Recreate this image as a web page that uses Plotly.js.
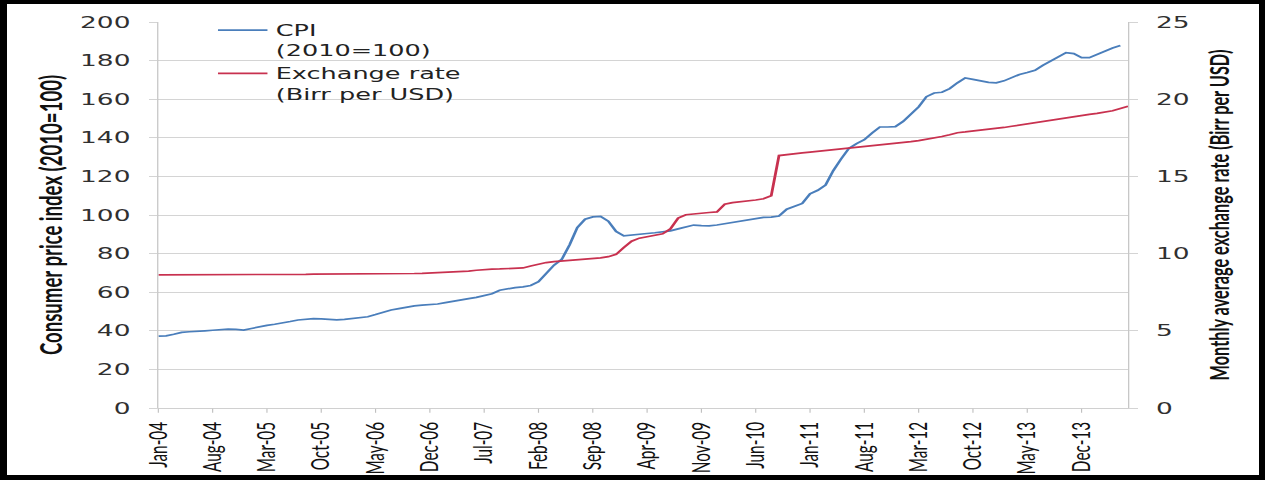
<!DOCTYPE html>
<html><head><meta charset="utf-8">
<script src="https://cdn.plot.ly/plotly-3.0.1.min.js"></script>
<style>
html,body{margin:0;padding:0;background:#fff;}
#wrap{position:relative;width:1265px;height:480px;overflow:hidden;background:#fff;}
#chart{position:absolute;left:0;top:0;width:767px;height:480px;transform:scaleX(1.6493);transform-origin:0 0;}
#frame{position:absolute;left:0;top:0;width:1265px;height:480px;box-sizing:border-box;border-style:solid;border-color:#000;border-width:4px 6px 5px 7px;pointer-events:none;}
</style></head>
<body>
<div id="wrap"><div id="chart"></div><div id="frame"></div></div>
<script>
// Monthly categories Jan-04 .. Jun-14
var MONTHS = [
 "Jan-04","Feb-04","Mar-04","Apr-04","May-04","Jun-04","Jul-04","Aug-04","Sep-04","Oct-04","Nov-04","Dec-04",
 "Jan-05","Feb-05","Mar-05","Apr-05","May-05","Jun-05","Jul-05","Aug-05","Sep-05","Oct-05","Nov-05","Dec-05",
 "Jan-06","Feb-06","Mar-06","Apr-06","May-06","Jun-06","Jul-06","Aug-06","Sep-06","Oct-06","Nov-06","Dec-06",
 "Jan-07","Feb-07","Mar-07","Apr-07","May-07","Jun-07","Jul-07","Aug-07","Sep-07","Oct-07","Nov-07","Dec-07",
 "Jan-08","Feb-08","Mar-08","Apr-08","May-08","Jun-08","Jul-08","Aug-08","Sep-08","Oct-08","Nov-08","Dec-08",
 "Jan-09","Feb-09","Mar-09","Apr-09","May-09","Jun-09","Jul-09","Aug-09","Sep-09","Oct-09","Nov-09","Dec-09",
 "Jan-10","Feb-10","Mar-10","Apr-10","May-10","Jun-10","Jul-10","Aug-10","Sep-10","Oct-10","Nov-10","Dec-10",
 "Jan-11","Feb-11","Mar-11","Apr-11","May-11","Jun-11","Jul-11","Aug-11","Sep-11","Oct-11","Nov-11","Dec-11",
 "Jan-12","Feb-12","Mar-12","Apr-12","May-12","Jun-12","Jul-12","Aug-12","Sep-12","Oct-12","Nov-12","Dec-12",
 "Jan-13","Feb-13","Mar-13","Apr-13","May-13","Jun-13","Jul-13","Aug-13","Sep-13","Oct-13","Nov-13","Dec-13",
 "Jan-14","Feb-14","Mar-14","Apr-14","May-14","Jun-14"
];
var TICK_LABELS = ["Jan-04","Aug-04","Mar-05","Oct-05","May-06","Dec-06","Jul-07","Feb-08","Sep-08",
 "Apr-09","Nov-09","Jun-10","Jan-11","Aug-11","Mar-12","Oct-12","May-13","Dec-13"];

// CPI (2010=100), Jan-04 .. May-14
var CPI = [
 37.2,37.4,38.2,39.2,39.5,39.6,40.0,40.3,40.6,40.9,40.7,40.4,
 41.2,42.2,42.8,43.4,43.9,44.8,45.6,46.0,46.3,46.2,46.0,45.7,
 45.9,46.3,46.8,47.3,48.4,49.8,50.8,51.5,52.3,52.9,53.3,53.6,
 53.9,54.6,55.4,56.0,56.7,57.3,58.2,59.2,61.0,61.8,62.4,62.8,
 63.5,65.5,70.0,74.0,77.0,84.5,93.5,97.8,99.0,99.3,96.8,91.5,
 89.2,89.5,90.0,90.4,90.8,91.3,91.8,92.8,94.0,94.8,94.5,94.4,
 94.8,95.5,96.2,96.8,97.5,98.2,98.8,98.9,99.5,103.0,104.3,106.0,
 111.0,112.8,115.5,123.0,129.0,134.5,137.0,139.0,142.5,145.6,145.6,145.8,
 148.5,152.0,156.0,161.3,163.2,163.6,165.5,168.5,171.0,170.3,169.4,168.7,
 168.5,169.5,171.2,172.8,173.8,175.0,177.5,179.8,182.0,184.1,183.6,181.5,
 181.5,183.2,185.0,186.5,187.8
];
// Exchange rate (Birr per USD), Jan-04 .. Jun-14
var FX = [
 8.62,8.62,8.62,8.63,8.63,8.63,8.63,8.63,8.64,8.64,8.64,8.64,
 8.65,8.65,8.65,8.65,8.66,8.66,8.66,8.66,8.67,8.67,8.67,8.67,
 8.68,8.68,8.68,8.69,8.69,8.69,8.70,8.70,8.71,8.71,8.72,8.74,
 8.78,8.81,8.83,8.85,8.87,8.92,8.98,9.00,9.01,9.02,9.03,9.07,
 9.20,9.33,9.42,9.48,9.52,9.55,9.58,9.62,9.67,9.72,9.80,9.95,
 10.40,10.80,11.00,11.10,11.20,11.28,11.60,12.30,12.52,12.58,12.62,12.66,
 12.70,13.20,13.30,13.35,13.40,13.47,13.55,13.75,16.35,16.42,16.47,16.52,
 16.57,16.62,16.67,16.72,16.78,16.85,16.90,16.95,17.00,17.04,17.08,17.12,
 17.20,17.25,17.32,17.40,17.47,17.58,17.70,17.83,17.88,17.93,17.98,18.03,
 18.10,18.17,18.25,18.33,18.42,18.50,18.58,18.66,18.74,18.80,18.87,18.95,
 19.02,19.08,19.15,19.25,19.40,19.55
];
var NAMES = ["CPI<br>(2010=100)", "Exchange rate<br>(Birr per USD)"];

var traces = [
 {x: MONTHS.slice(0, CPI.length), y: CPI, name: NAMES[0], type: "scatter", mode: "lines",
  line: {color: "#4a7ebb", width: 1.7}},
 {x: MONTHS, y: FX, name: NAMES[1], type: "scatter", mode: "lines", yaxis: "y2",
  line: {color: "#c8314f", width: 1.7}}
];
var tickFont = {family: "DejaVu Sans", size: 16, color: "#303030"};
var layout = {
 width: 767, height: 480,
 margin: {l: 95.8, r: 83.1, t: 22, b: 72},
 paper_bgcolor: "rgba(0,0,0,0)", plot_bgcolor: "#fff",
 showlegend: true,
 legend: {x: 0.053, y: 1.022, xanchor: "left", yanchor: "top", bgcolor: "rgba(0,0,0,0)",
   font: {family: "DejaVu Sans", size: 15.5, color: "#222"}, valign: "top", tracegroupgap: 0},
 xaxis: {type: "category", categoryorder: "array", categoryarray: MONTHS, range: [0, 125],
   tickmode: "array", tickvals: TICK_LABELS, ticktext: TICK_LABELS, tickangle: -90,
   ticks: "outside", ticklen: 4, tickcolor: "#c0c0c0", tickwidth: 0.7,
   showline: true, linecolor: "#c0c0c0", linewidth: 0.8, showgrid: false, zeroline: false,
   tickfont: {family: "Lato", size: 15.3, color: "#111"}, ticklabelstandoff: 3},
 yaxis: {range: [0, 200], dtick: 20, tickmode: "linear", tick0: 0,
   showgrid: true, gridcolor: "#d4d4d4", gridwidth: 1, zeroline: false,
   showline: true, linecolor: "#c0c0c0", linewidth: 0.7,
   ticks: "outside", ticklen: 5, tickcolor: "#d4d4d4", tickwidth: 1,
   tickfont: tickFont, ticklabelstandoff: 8,
   title: {text: "Consumer price index (2010=100)", font: {family: "Lato", size: 18.6, weight: "bold", color: "#111"}, standoff: 5}},
 yaxis2: {range: [0, 25], dtick: 5, tickmode: "linear", tick0: 0, overlaying: "y", side: "right",
   showgrid: false, zeroline: false, showline: true, linecolor: "#c0c0c0", linewidth: 0.7,
   ticks: "outside", ticklen: 5, tickcolor: "#d4d4d4", tickwidth: 1,
   tickfont: tickFont, ticklabelstandoff: 8,
   title: {text: "Monthly average exchange rate (Birr per USD)", font: {family: "Lato", size: 16.3, weight: "bold", color: "#111"}, standoff: 13}}
};
Plotly.newPlot("chart", traces, layout, {staticPlot: true, displayModeBar: false});
</script>
</body></html>
